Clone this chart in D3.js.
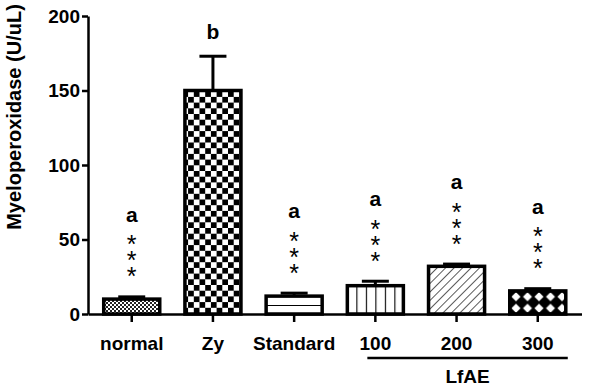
<!DOCTYPE html>
<html>
<head>
<meta charset="utf-8">
<script src="https://cdn.jsdelivr.net/npm/d3@7"></script>
<style>
  body { margin: 0; background: #fff; }
  text { font-family: "Liberation Sans", Arial, sans-serif; }
</style>
</head>
<body>
<div id="chart"></div>
<script>
// data
const groups   = ['normal', 'Zy', 'Standard', '100', '200', '300'];
const means    = [10, 150, 12, 19, 32, 15.5];
const errors   = [1.5, 23, 2, 3, 1.5, 1.5];
const letters  = ['a', 'b', 'a', 'a', 'a', 'a'];
const stars    = [3, 0, 3, 3, 3, 3];
const fills    = ['fine', 'check', 'hlines', 'vlines', 'diag', 'cross'];
const yTicks   = [0, 50, 100, 150, 200];
const lfaeGroup = ['100', '200', '300'];

const W = 597, H = 387;
const svg = d3.select('#chart').append('svg').attr('width', W).attr('height', H);

const x = d3.scaleBand().domain(groups).range([88, 581.5])
  .paddingInner(0.273).paddingOuter(0.175);
const y = d3.scaleLinear().domain([0, 200]).range([314, 16]);

// patterns
const defs = svg.append('defs');
function pat(id, w, h) {
  return defs.append('pattern').attr('id', id).attr('patternUnits', 'userSpaceOnUse')
    .attr('width', w).attr('height', h);
}
let p = pat('fine', 4, 4);
p.append('rect').attr('width', 4).attr('height', 4).attr('fill', '#fff');
p.append('rect').attr('width', 2).attr('height', 2).attr('fill', '#222');
p.append('rect').attr('x', 2).attr('y', 2).attr('width', 2).attr('height', 2).attr('fill', '#222');

p = pat('check', 11.4, 11.4);
p.append('rect').attr('width', 11.4).attr('height', 11.4).attr('fill', '#fff');
p.append('rect').attr('width', 5.7).attr('height', 5.7).attr('fill', '#000');
p.append('rect').attr('x', 5.7).attr('y', 5.7).attr('width', 5.7).attr('height', 5.7).attr('fill', '#000');

p = pat('hlines', 10, 9).attr('y', 314);
p.append('rect').attr('width', 10).attr('height', 9).attr('fill', '#fff');
p.append('line').attr('x1', 0).attr('x2', 10).attr('y1', 0.5).attr('y2', 0.5)
  .attr('stroke', '#000').attr('stroke-width', 1);

p = pat('vlines', 9.5, 10).attr('x', x('100') + 1);
p.append('rect').attr('width', 9.5).attr('height', 10).attr('fill', '#fff');
p.append('line').attr('x1', 0.5).attr('x2', 0.5).attr('y1', 0).attr('y2', 10)
  .attr('stroke', '#000').attr('stroke-width', 1.2);

p = pat('diag', 6, 6).attr('patternTransform', 'rotate(45)');
p.append('rect').attr('width', 6).attr('height', 6).attr('fill', '#fff');
p.append('line').attr('x1', 0).attr('x2', 0).attr('y1', 0).attr('y2', 6)
  .attr('stroke', '#000').attr('stroke-width', 1.3);

p = pat('cross', 11.5, 11.5).attr('x', x('300') + 2).attr('y', 314);
p.append('rect').attr('width', 11.5).attr('height', 11.5).attr('fill', '#000');
p.append('path').attr('d', 'M5.75,1.2 L10.3,5.75 L5.75,10.3 L1.2,5.75 Z').attr('fill', '#fff');

const data = groups.map((g, i) => ({
  g, m: means[i], e: errors[i], letter: letters[i], stars: stars[i], fill: fills[i]
}));

// error bars (upper only)
const eb = svg.append('g').attr('stroke', '#000').attr('stroke-width', 3);
eb.selectAll('.stem').data(data).join('line')
  .attr('x1', d => x(d.g) + x.bandwidth() / 2).attr('x2', d => x(d.g) + x.bandwidth() / 2)
  .attr('y1', d => y(d.m)).attr('y2', d => y(d.m + d.e));
eb.selectAll('.cap').data(data).join('line')
  .attr('x1', d => x(d.g) + x.bandwidth() / 2 - 13.5)
  .attr('x2', d => x(d.g) + x.bandwidth() / 2 + 13.5)
  .attr('y1', d => y(d.m + d.e)).attr('y2', d => y(d.m + d.e));

// bars
svg.append('g').selectAll('rect').data(data).join('rect')
  .attr('x', d => x(d.g) + 1.5).attr('width', x.bandwidth() - 3)
  .attr('y', d => y(d.m)).attr('height', d => y(0) - y(d.m))
  .attr('fill', d => `url(#${d.fill})`)
  .attr('stroke', '#000').attr('stroke-width', 3.5);

// axes
const yAxis = svg.append('g').attr('transform', 'translate(88,0)')
  .call(d3.axisLeft(y).tickValues(yTicks).tickSize(6).tickSizeOuter(0).tickPadding(2));
const xAxis = svg.append('g').attr('transform', 'translate(0,314)')
  .call(d3.axisBottom(x).tickSize(8).tickSizeOuter(0).tickPadding(14.5));
[yAxis, xAxis].forEach(a => {
  a.select('.domain').attr('stroke-width', 2.5);
  a.selectAll('.tick line').attr('stroke-width', 2.5);
  a.selectAll('text').attr('font-size', 19).attr('font-weight', 'bold')
    .attr('font-family', '"Liberation Sans", Arial, sans-serif').attr('fill', '#000');
});

// y title
svg.append('text')
  .attr('transform', 'translate(21,117) rotate(-90)')
  .attr('text-anchor', 'middle').attr('font-size', 20).attr('font-weight', 'bold')
  .text('Myeloperoxidase (U/uL)');

// significance letters and stars (stars stacked as one text block)
const ann = svg.append('g');
data.forEach(d => {
  const cx = x(d.g) + x.bandwidth() / 2;
  const top = y(d.m + d.e);
  const letterC = d.stars ? top - 80 : top - 22;
  ann.append('text').attr('x', cx).attr('y', letterC + 5)
    .attr('text-anchor', 'middle').attr('font-size', 21).attr('font-weight', 'bold')
    .text(d.letter);
  if (!d.stars) return;
  const st = ann.append('text').attr('x', cx).attr('y', letterC + 22 + 14.5)
    .attr('text-anchor', 'middle').attr('font-size', 25);
  d3.range(d.stars).forEach(k => {
    st.append('tspan').attr('x', cx).attr('dy', k ? 16 : 0).text('*');
  });
});

// LfAE bracket
const lx0 = x(lfaeGroup[0]) + x.bandwidth() / 2 - 8;
const lx1 = x(lfaeGroup[lfaeGroup.length - 1]) + x.bandwidth() / 2 + 30;
svg.append('line').attr('x1', lx0).attr('x2', lx1).attr('y1', 358).attr('y2', 358)
  .attr('stroke', '#000').attr('stroke-width', 2.5);
svg.append('text').attr('x', (lx0 + lx1) / 2).attr('y', 383)
  .attr('text-anchor', 'middle').attr('font-size', 19).attr('font-weight', 'bold')
  .text('LfAE');
</script>
</body>
</html>
